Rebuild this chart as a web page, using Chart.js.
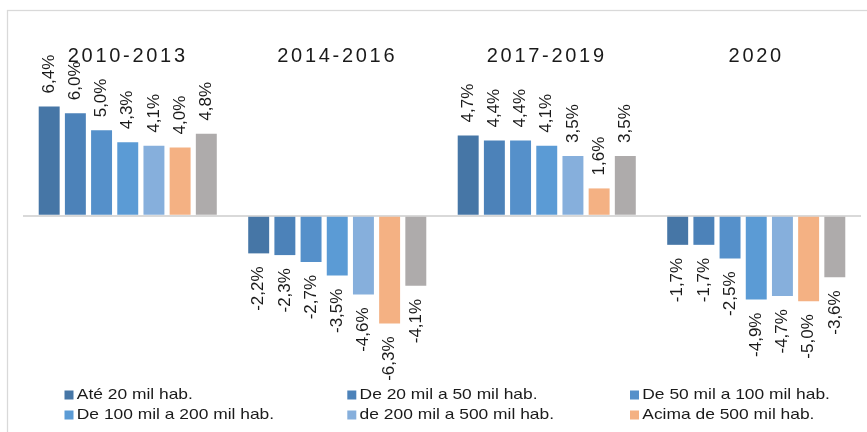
<!DOCTYPE html>
<html><head><meta charset="utf-8">
<script src="https://cdn.jsdelivr.net/npm/chart.js@4"></script>
<style>html,body{margin:0;padding:0;background:#fff;overflow:hidden}</style>
</head><body><canvas id="c" width="867" height="432"></canvas>
<script>
const categories = ['2010-2013', '2014-2016', '2017-2019', '2020'];
const seriesNames = ['Até 20 mil hab.', 'De 20 mil a 50 mil hab.', 'De 50 mil a 100 mil hab.', 'De 100 mil a 200 mil hab.', 'de 200 mil a 500 mil hab.', 'Acima de 500 mil hab.', 'Brasil'];
const ate20 = [6.4, -2.2, 4.7, -1.7];
const de20a50 = [6.0, -2.3, 4.4, -1.7];
const de50a100 = [5.0, -2.7, 4.4, -2.5];
const de100a200 = [4.3, -3.5, 4.1, -4.9];
const de200a500 = [4.1, -4.6, 3.5, -4.7];
const acima500 = [4.0, -6.3, 1.6, -5.0];
const brasil = [4.8, -4.1, 3.5, -3.6];
const seriesColors = ['#4676a6', '#4c82b9', '#5590ca', '#5b9bd5', '#86afdc', '#f4b183', '#aeabab'];
const legendShown = 6;

const allSeries = [ate20, de20a50, de50a100, de100a200, de200a500, acima500, brasil];
const datasets = allSeries.map((d, i) => ({
  label: seriesNames[i],
  data: d,
  backgroundColor: seriesColors[i],
  borderWidth: 0,
  categoryPercentage: 0.875,
  barPercentage: 0.80
}));

const FONT = '"Liberation Sans", Arial, sans-serif';

const bgPlugin = {
  id: 'bgBorder',
  beforeDraw(chart) {
    const ctx = chart.ctx;
    ctx.save();
    ctx.fillStyle = '#ffffff';
    ctx.fillRect(0, 0, chart.width, chart.height);
    ctx.strokeStyle = '#d9d9d9';
    ctx.lineWidth = 1.25;
    ctx.strokeRect(7.5, 10.5, 1000, 600);
    ctx.restore();
    const s = chart.scales.x;
    if (s && !s.__patched) {
      const orig = s.drawLabels;
      s.drawLabels = function (area) {
        const c = this.ctx;
        c.save();
        c.letterSpacing = '2.7px';
        orig.call(this, area);
        c.restore();
      };
      s.__patched = true;
    }
  }
};

const labelPlugin = {
  id: 'valueLabels',
  afterDatasetsDraw(chart) {
    const ctx = chart.ctx;
    ctx.save();
    ctx.font = '17px ' + FONT;
    ctx.fillStyle = '#1a1a1a';
    ctx.textBaseline = 'middle';
    chart.data.datasets.forEach((ds, i) => {
      const meta = chart.getDatasetMeta(i);
      meta.data.forEach((bar, j) => {
        const v = ds.data[j];
        const txt = v.toFixed(1).replace('.', ',') + '%';
        ctx.save();
        ctx.translate(bar.x, v >= 0 ? bar.y - 13 : bar.y + 13);
        ctx.rotate(-Math.PI / 2);
        ctx.textAlign = v >= 0 ? 'left' : 'right';
        ctx.fillText(txt, 0, 0);
        ctx.restore();
      });
    });
    ctx.restore();
  }
};

const legendPlugin = {
  id: 'gridLegend',
  afterDraw(chart) {
    const ctx = chart.ctx;
    const cols = [64.5, 347.3, 630];
    const rows = [394.5, 414.5];
    ctx.save();
    chart.data.datasets.slice(0, legendShown).forEach((ds, k) => {
      const x = cols[k % 3];
      const cy = rows[Math.floor(k / 3)];
      ctx.fillStyle = ds.backgroundColor;
      ctx.fillRect(x, cy - 4, 9, 9);
      ctx.save();
      ctx.translate(x + 12.3, cy);
      ctx.scale(1.2, 1);
      ctx.font = '14.5px ' + FONT;
      ctx.fillStyle = '#1a1a1a';
      ctx.textBaseline = 'middle';
      ctx.textAlign = 'left';
      ctx.fillText(ds.label, 0, 0);
      ctx.restore();
    });
    ctx.restore();
  }
};

new Chart(document.getElementById('c'), {
  type: 'bar',
  data: { labels: categories, datasets: datasets },
  options: {
    responsive: false,
    animation: false,
    devicePixelRatio: 1,
    layout: { padding: { left: 23, right: 6, top: 41, bottom: 60 } },
    plugins: { legend: { display: false }, tooltip: { enabled: false } },
    scales: {
      x: {
        position: 'top',
        grid: { display: false, drawTicks: false },
        border: { display: false },
        ticks: { font: { family: FONT, size: 20 }, color: '#1a1a1a', padding: 3, maxRotation: 0, autoSkip: false }
      },
      y: {
        min: -9.14,
        max: 8.47,
        grid: {
          color: (c) => (c.tick && c.tick.value === 0 ? '#d9d9d9' : 'rgba(0,0,0,0)'),
          lineWidth: 2,
          drawTicks: false
        },
        border: { display: false },
        ticks: { display: false, stepSize: 1 }
      }
    }
  },
  plugins: [bgPlugin, labelPlugin, legendPlugin]
});
</script>
</body></html>
